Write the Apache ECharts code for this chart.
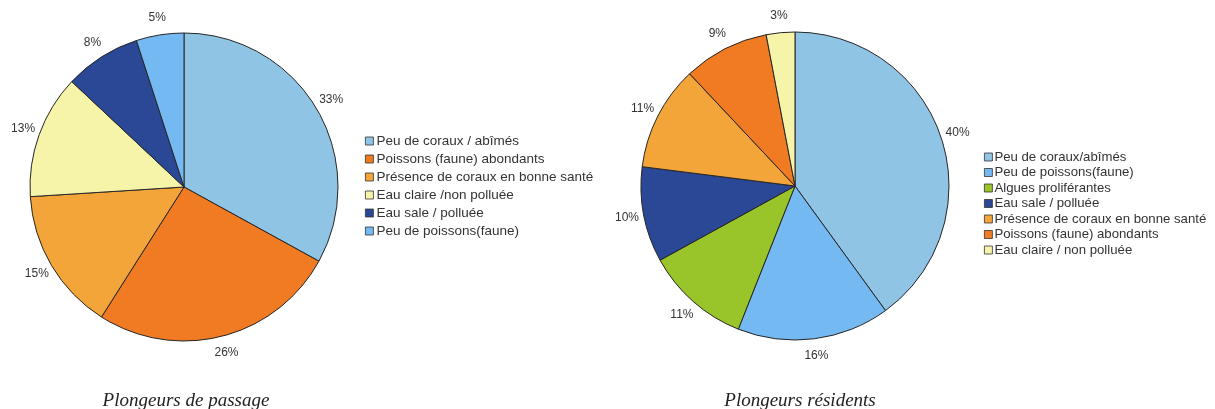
<!DOCTYPE html>
<html>
<head>
<meta charset="utf-8">
<script src="https://cdn.jsdelivr.net/npm/echarts@6/dist/echarts.min.js"></script>
<style>
  html, body { margin: 0; padding: 0; background: #fff; }
  #chart { width: 1215px; height: 409px; }
</style>
</head>
<body>
<div id="chart"></div>
<script>
// Plongeurs de passage
const passageNames = [
  'Peu de coraux / abîmés',
  'Poissons (faune) abondants',
  'Présence de coraux en bonne santé',
  'Eau claire /non polluée',
  'Eau sale / polluée',
  'Peu de poissons(faune)'
];
const passageValues = [33, 26, 15, 13, 8, 5];

// Plongeurs résidents
const residentNames = [
  'Peu de coraux/abîmés',
  'Peu de poissons(faune)',
  'Algues proliférantes',
  'Eau sale / polluée',
  'Présence de coraux en bonne santé',
  'Poissons (faune) abondants',
  'Eau claire / non polluée'
];
const residentValues = [40, 16, 11, 10, 11, 9, 3];

const titles = ['Plongeurs de passage', 'Plongeurs résidents'];

const palette = {
  'Peu de coraux / abîmés': '#8fc4e4',
  'Peu de coraux/abîmés': '#8fc4e4',
  'Poissons (faune) abondants': '#f07b22',
  'Présence de coraux en bonne santé': '#f3a53a',
  'Eau claire /non polluée': '#f6f4a8',
  'Eau claire / non polluée': '#f6f4a8',
  'Eau sale / polluée': '#2b4896',
  'Peu de poissons(faune)': '#75b9f2',
  'Algues proliférantes': '#99c42a'
};

const PIE_R = 154;

function toData(names, values) {
  return names.map((n, i) => ({
    name: n,
    value: values[i],
    itemStyle: { color: palette[n] }
  }));
}

// the coloured pie itself
function pieSeries(names, values, center) {
  return {
    type: 'pie',
    center: center,
    radius: PIE_R,
    startAngle: 90,
    clockwise: true,
    data: toData(names, values),
    itemStyle: { borderColor: '#262626', borderWidth: 1 },
    label: { show: false },
    labelLine: { show: false },
    emphasis: { scale: false }
  };
}

// invisible ring just outside the pie that carries the percentage labels,
// so each label is centred on its slice's mid-angle
function labelRing(names, values, center) {
  return {
    type: 'pie',
    center: center,
    radius: [PIE_R, PIE_R + 28],
    startAngle: 90,
    clockwise: true,
    silent: true,
    data: names.map((n, i) => ({ name: n, value: values[i] })),
    itemStyle: { color: 'rgba(0,0,0,0)', borderWidth: 0 },
    label: {
      show: true,
      position: 'inside',
      formatter: '{c}%',
      fontFamily: 'Liberation Sans, Arial, sans-serif',
      fontSize: 12,
      color: '#333'
    },
    labelLine: { show: false },
    emphasis: { disabled: true },
    tooltip: { show: false }
  };
}

const legendText = {
  fontFamily: 'Liberation Sans, Arial, sans-serif',
  color: '#333'
};

const titleText = {
  fontFamily: 'Liberation Serif, Times New Roman, serif',
  fontStyle: 'italic',
  fontWeight: 'normal',
  fontSize: 19,
  color: '#222'
};

const chart = echarts.init(document.getElementById('chart'), null, { renderer: 'canvas' });
chart.setOption({
  animation: false,
  backgroundColor: '#fff',
  title: [
    { text: titles[0], left: 181, top: 386, textAlign: 'center', textStyle: titleText },
    { text: titles[1], left: 795, top: 386, textAlign: 'center', textStyle: titleText }
  ],
  legend: [
    {
      orient: 'vertical', left: 360, top: 129,
      data: passageNames, icon: 'rect', itemWidth: 8, itemHeight: 8, itemGap: 4,
      itemStyle: { borderColor: '#333', borderWidth: 0.8 },
      textStyle: Object.assign({ fontSize: 13.5, lineHeight: 14, padding: [0, 0, 0, -2] }, legendText),
      selectedMode: false
    },
    {
      orient: 'vertical', left: 979, top: 145,
      data: residentNames, icon: 'rect', itemWidth: 8, itemHeight: 8, itemGap: 1.5,
      itemStyle: { borderColor: '#333', borderWidth: 0.8 },
      textStyle: Object.assign({ fontSize: 13.2, lineHeight: 14, padding: [0, 0, 0, -3] }, legendText),
      selectedMode: false
    }
  ],
  series: [
    pieSeries(passageNames, passageValues, [184, 187]),
    pieSeries(residentNames, residentValues, [795, 186]),
    labelRing(passageNames, passageValues, [184, 187]),
    labelRing(residentNames, residentValues, [795, 186])
  ]
});
</script>
</body>
</html>
